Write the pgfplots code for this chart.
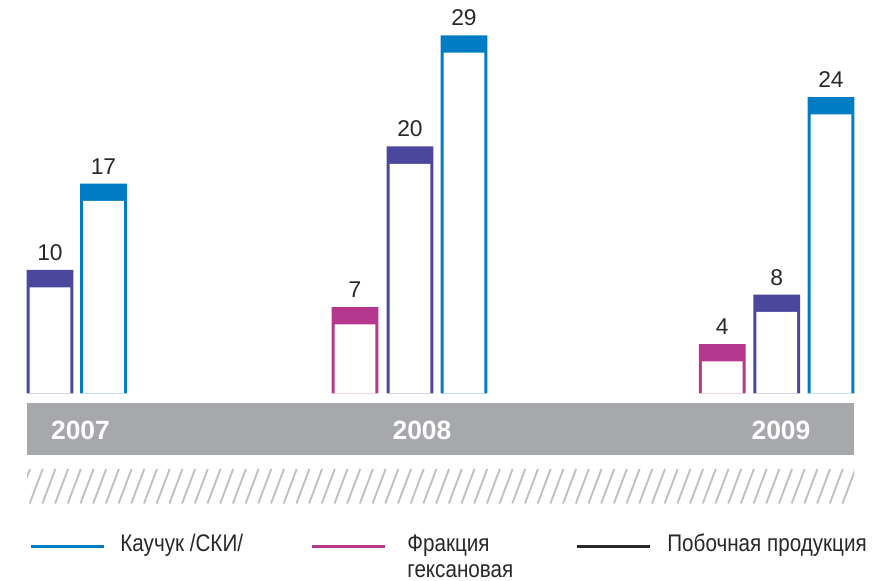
\documentclass[border=0pt]{standalone}
\usepackage{pgfplots}
\pgfplotsset{compat=1.18}
\usepackage{pgfplotstable}
\usepackage{fontspec}
\setmainfont{Liberation Sans}
\newfontfamily\narrowfont{Liberation Sans}[FakeStretch=0.86]
\definecolor{cblue}{RGB}{0,124,196}
\definecolor{cpurple}{RGB}{74,71,156}
\definecolor{cmag}{RGB}{181,56,142}
\definecolor{cgray}{RGB}{167,168,171}
\definecolor{chatch}{RGB}{192,193,195}
\definecolor{ctext}{RGB}{40,40,40}
% x = horizontal position of the bar, v = value
\pgfplotstableread{
x v
103.5 17
464 29
831 24
}\rubber
\pgfplotstableread{
x v
355 7
722.2 4
}\hexane
\pgfplotstableread{
x v
50 10
410 20
776.7 8
}\byprod
\begin{document}
\begin{tikzpicture}
\begin{axis}[
  scale only axis, width=437.5pt, height=290.5pt,
  xmin=0, xmax=875, ymin=-15.18, ymax=31.86,
  hide axis, clip=false,
  ybar, bar width=46.7, bar shift=0pt,
  /pgf/number format/assume math mode=true,
  every node near coord/.append style={font=\fontsize{11.4}{13}\selectfont, text=ctext, inner sep=0pt, yshift=4.5pt},
]
\path (rel axis cs:0,0) rectangle (rel axis cs:1,1);
\addplot[fill=cpurple, draw=none, nodes near coords] table[x=x, y=v]{\byprod};
\addplot[fill=white, draw=none, bar width=40.7] table[x=x, y expr=\thisrow{v}-1.40]{\byprod};
\addplot[fill=cblue, draw=none, nodes near coords] table[x=x, y=v]{\rubber};
\addplot[fill=white, draw=none, bar width=40.7] table[x=x, y expr=\thisrow{v}-1.40]{\rubber};
\addplot[fill=cmag, draw=none, nodes near coords] table[x=x, y=v]{\hexane};
\addplot[fill=white, draw=none, bar width=40.7] table[x=x, y expr=\thisrow{v}-1.40]{\hexane};
\end{axis}
\begin{scope}[x=0.5pt, y=-0.5pt, shift={(0pt,290.5pt)}]
  \fill[cgray] (27,403.5) rectangle (854.3,455.5);
  \node[text=white, font=\bfseries\fontsize{13.2}{15}\selectfont] at (80.5,430.5) {2007};
  \node[text=white, font=\bfseries\fontsize{13.2}{15}\selectfont] at (422,430.5) {2008};
  \node[text=white, font=\bfseries\fontsize{13.2}{15}\selectfont] at (781,430.5) {2009};
  \begin{scope}
    \clip (27,469) rectangle (854.3,503.5);
    \foreach \i in {0,...,67} {
      \draw[chatch, line width=0.95pt] ({17+\i*12.7},503.5) -- ({30+\i*12.7},469);
    }
  \end{scope}
  \draw[cblue, line width=1.5pt] (31,547) -- (104,547);
  \draw[cmag, line width=1.5pt] (312,547) -- (385,547);
  \draw[ctext, line width=1.5pt] (577,547) -- (650,547);
  \begin{scope}[every node/.style={anchor=base west, inner sep=0pt, text=ctext, font=\narrowfont\fontsize{12}{13}\selectfont}]
    \node at (120,552) {Каучук /СКИ/};
    \node at (407,552) {Фракция};
    \node at (407,578) {гексановая};
    \node at (667,552) {Побочная продукция};
  \end{scope}
\end{scope}
\end{tikzpicture}
\end{document}
